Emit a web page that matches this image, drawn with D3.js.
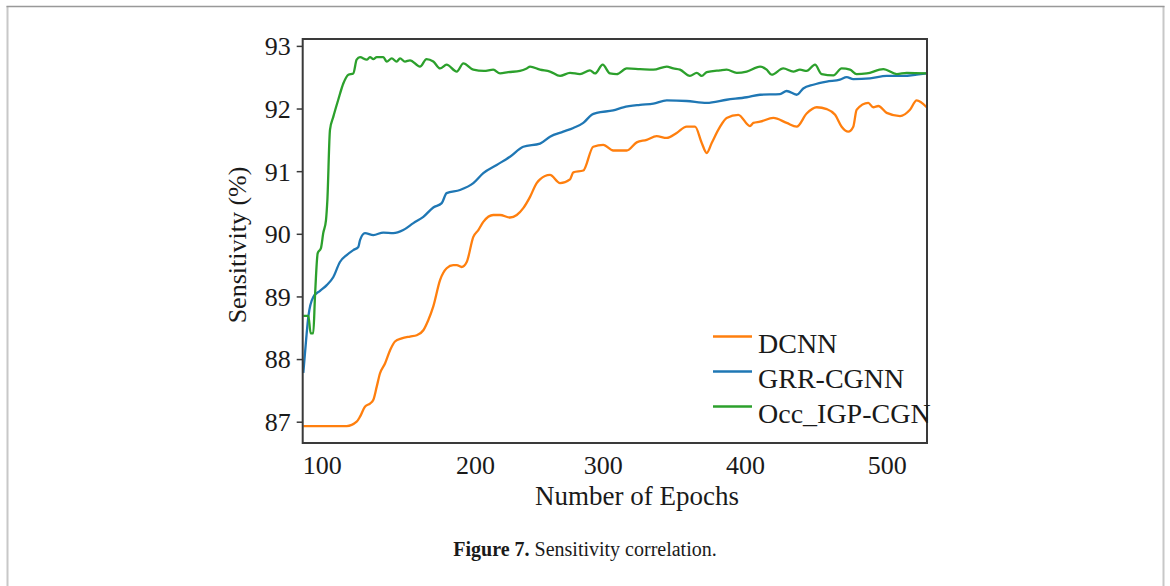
<!DOCTYPE html>
<html><head><meta charset="utf-8">
<script src="https://cdn.jsdelivr.net/npm/d3@7"></script>
<style>body{margin:0;background:#fff}svg{display:block}</style>
</head><body>
<svg id="c" width="1170" height="586"></svg>
<script>
const seriesNames = ["DCNN", "GRR-CGNN", "Occ_IGP-CGN"];
const seriesColors = ["#ff7f0e", "#1f77b4", "#2ca02c"];
const xTicks = [100, 200, 300, 400, 500];
const yTicks = [87, 88, 89, 90, 91, 92, 93];
const xTitle = "Number of Epochs";
const yTitle = "Sensitivity (%)";
const captionBold = "Figure 7.";
const captionText = " Sensitivity correlation.";

const dcnnEpochs = [88,116.3,122.8,125,128.2,131.5,133.7,135.9,138,141.3,144.6,147.8,152.2,157.6,162,166.3,169.5,172.8,177.2,181.5,185.8,188.1,191.3,194.6,198.9,202.6,206.5,214.3,219.6,227.4,232.7,237.8,243.1,248.3,250.9,258.7,266.6,274.4,277,284.8,292.6,300.4,307.4,316.9,323.9,330.9,337.9,345,352,359,364.9,369.6,373.1,376.6,382.5,387.1,395.3,403.5,405.9,410.6,420,429.4,436.5,443.5,450.6,457.7,463.6,468.2,472.9,476.4,478.8,487,490.5,494.1,500,509.4,516.4,521.1,528.2];
const dcnnValues = [86.93,86.93,87.00,87.08,87.24,87.29,87.35,87.56,87.77,87.93,88.14,88.28,88.33,88.36,88.38,88.46,88.62,88.84,89.26,89.45,89.50,89.50,89.47,89.55,89.95,90.06,90.19,90.30,90.30,90.26,90.30,90.41,90.59,90.81,90.87,90.94,90.81,90.87,90.98,91.01,91.39,91.42,91.33,91.33,91.46,91.50,91.56,91.53,91.61,91.71,91.71,91.45,91.29,91.45,91.71,91.85,91.90,91.72,91.77,91.79,91.85,91.77,91.71,91.92,92.02,91.99,91.90,91.71,91.63,91.71,91.98,92.09,92.02,92.04,91.93,91.88,91.98,92.13,92.02];

const grrEpochs = [88,89.8,91.3,94.5,98.9,103.3,107.6,111.9,116.3,120.6,123.9,125,128.2,133.7,140.2,146.7,153.2,159.8,166.3,172.8,178.3,181.5,190.2,198.9,206.5,217,227.4,237.8,250.9,258.7,269.1,277,284.8,291.4,295.3,307.4,314.5,326.2,335.6,345,359,373.1,387.1,401.2,410.6,424.7,429.4,436.5,441.1,448.2,457.7,467,471.8,476.4,488.2,500,511.7,521.1,528.2];
const grrValues = [87.78,88.30,88.68,88.99,89.09,89.18,89.31,89.55,89.66,89.74,89.79,89.90,90.01,89.98,90.02,90.01,90.06,90.17,90.27,90.42,90.49,90.65,90.70,90.81,90.97,91.10,91.23,91.39,91.44,91.55,91.63,91.69,91.77,91.90,91.93,91.97,92.02,92.06,92.08,92.13,92.12,92.09,92.14,92.18,92.22,92.23,92.28,92.22,92.32,92.38,92.43,92.46,92.50,92.47,92.48,92.52,92.52,92.54,92.56];

const occEpochs = [88,91.3,92.8,94.5,95.6,97.4,99.5,101,102.8,103.7,105.4,107.6,110.8,114.1,117.4,120.6,122.8,125,129.4,131.5,133.7,135.9,140.2,142.4,145.7,148.9,151.1,154.3,157.6,164.1,168.4,172.8,177.2,181.5,188.1,192.4,198.9,207,214.3,219.6,226,235.2,240.5,243.1,250.9,258.7,266.6,274.4,282.2,290,294,300,305.1,309.8,316.9,326.2,335.6,345,349.6,354.3,361.3,366.1,369.6,373.1,382.5,387.1,394.2,401.2,410.6,415.3,418.8,427,434.1,438.8,443.5,449.4,454.1,462.4,468.2,474.1,478.8,485.9,497.6,507.1,514.1,528.2];
const occValues = [88.69,88.69,88.41,88.41,88.99,89.69,89.77,90.01,90.22,90.54,91.66,91.87,92.14,92.40,92.54,92.56,92.78,92.82,92.78,92.82,92.79,92.82,92.82,92.75,92.80,92.75,92.80,92.75,92.77,92.67,92.79,92.75,92.64,92.70,92.59,92.72,92.62,92.60,92.62,92.56,92.58,92.60,92.64,92.67,92.62,92.59,92.52,92.57,92.55,92.61,92.56,92.70,92.56,92.55,92.64,92.63,92.62,92.67,92.64,92.62,92.52,92.57,92.52,92.58,92.61,92.62,92.57,92.59,92.67,92.62,92.54,92.64,92.59,92.62,92.60,92.70,92.55,92.53,92.64,92.62,92.55,92.56,92.63,92.55,92.57,92.56];

const series = [
  {name: seriesNames[0], color: seriesColors[0], xs: dcnnEpochs, ys: dcnnValues},
  {name: seriesNames[1], color: seriesColors[1], xs: grrEpochs, ys: grrValues},
  {name: seriesNames[2], color: seriesColors[2], xs: occEpochs, ys: occValues}
];

const FONT = "'Liberation Serif','Times New Roman',serif";
const svg = d3.select("#c");

// outer page frame
svg.append("line").attr("x1",7.5).attr("x2",7.5).attr("y1",6).attr("y2",586).attr("stroke","#c8c8c8").attr("stroke-width",2);
svg.append("line").attr("x1",1163.5).attr("x2",1163.5).attr("y1",6).attr("y2",586).attr("stroke","#c8c8c8").attr("stroke-width",2);
svg.append("line").attr("x1",6.5).attr("x2",1164.5).attr("y1",6.5).attr("y2",6.5).attr("stroke","#999").attr("stroke-width",1.5);

const L = 302.7, R = 927, T = 39, B = 443;
const x = d3.scaleLinear()
  .domain([87.6, 100, 200, 300, 400, 500, 528.4])
  .range([L, 321.7, 475, 602.7, 745, 886.7, R]);
const y = d3.scaleLinear().domain([86.66, 93.11]).range([B, T]);

// lines
const line = d3.line().x(d => x(d[0])).y(d => y(d[1])).curve(d3.curveMonotoneX);
series.forEach(s => {
  const pts = s.xs.map((e, i) => [e, s.ys[i]]);
  svg.append("path").datum(pts).attr("d", line)
    .attr("fill","none").attr("stroke", s.color).attr("stroke-width", 2.3)
    .attr("stroke-linejoin","round");
});

// frame
svg.append("rect").attr("x",L).attr("y",T).attr("width",R-L).attr("height",B-T)
  .attr("fill","none").attr("stroke","#3a3a3a").attr("stroke-width",2);

// y axis
const yAxis = svg.append("g").attr("transform",`translate(${L},0)`)
  .call(d3.axisLeft(y).tickValues(yTicks).tickSize(6).tickPadding(6).tickFormat(d3.format("d")));
yAxis.select(".domain").remove();
yAxis.selectAll(".tick line").attr("stroke","#3a3a3a").attr("stroke-width",1.5);
yAxis.selectAll(".tick text").attr("font-family",FONT).attr("font-size",26).attr("fill","#1a1a1a").attr("dy","0.34em");

// x axis
const xAxis = svg.append("g").attr("transform",`translate(0,${B})`)
  .call(d3.axisBottom(x).tickValues(xTicks).tickSize(0).tickPadding(13).tickFormat(d3.format("d")));
xAxis.select(".domain").remove();
xAxis.selectAll(".tick text").attr("font-family",FONT).attr("font-size",26).attr("fill","#1a1a1a");

// titles
svg.append("text").attr("x",637).attr("y",505).attr("text-anchor","middle")
  .attr("font-family",FONT).attr("font-size",27).attr("fill","#1a1a1a").text(xTitle);
svg.append("text").attr("transform","translate(246,245) rotate(-90)").attr("text-anchor","middle")
  .attr("font-family",FONT).attr("font-size",26).attr("fill","#1a1a1a").text(yTitle);

// legend
const lg = svg.append("g");
series.forEach((s, i) => {
  const by = 352.5 + i * 35;
  lg.append("line").attr("x1",713).attr("x2",752).attr("y1",by-16).attr("y2",by-16)
    .attr("stroke",s.color).attr("stroke-width",2.3);
  lg.append("text").attr("x",758).attr("y",by).attr("font-family",FONT).attr("font-size",28)
    .attr("fill","#1a1a1a").text(s.name);
});

// caption
const cap = svg.append("text").attr("x",585).attr("y",556).attr("text-anchor","middle")
  .attr("font-family",FONT).attr("font-size",20).attr("fill","#1a1a1a");
cap.append("tspan").attr("font-weight","bold").text(captionBold);
cap.append("tspan").text(captionText);
</script>
</body></html>
